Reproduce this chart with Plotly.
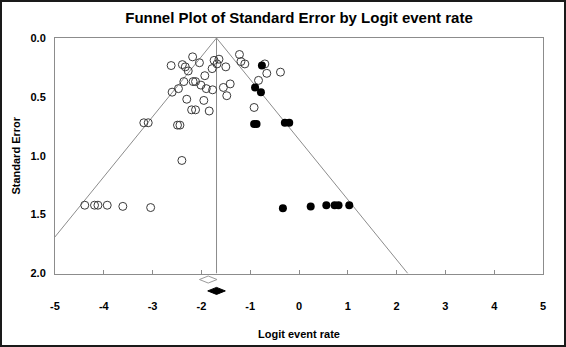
import plotly.graph_objects as go

# Observed studies: logit event rate and standard error
obs_x = [-2.62, -2.39, -2.33, -2.27, -2.18, -2.04, -1.74, -1.64, -1.78, -1.68,
         -1.50, -1.22, -1.19, -1.11, -0.70, -0.66, -0.38, -0.83, -1.93, -2.36,
         -2.17, -2.12, -2.01, -1.90, -1.77, -1.55, -1.41, -1.48, -2.47, -2.60,
         -2.30, -1.95, -2.20, -2.12, -1.84, -0.92, -3.18, -3.09, -2.49, -2.44,
         -2.40, -4.39, -4.19, -4.12, -3.93, -3.61, -3.04]
obs_se = [0.234, 0.226, 0.245, 0.28, 0.16, 0.21, 0.19, 0.18, 0.26, 0.22,
          0.245, 0.14, 0.20, 0.22, 0.22, 0.30, 0.29, 0.36, 0.32, 0.37,
          0.37, 0.37, 0.40, 0.43, 0.44, 0.42, 0.39, 0.49, 0.43, 0.46,
          0.52, 0.53, 0.61, 0.61, 0.62, 0.59, 0.72, 0.72, 0.74, 0.74,
          1.04, 1.42, 1.42, 1.42, 1.42, 1.43, 1.44]

# Imputed studies (trim and fill)
imp_x = [-0.76, -0.90, -0.78, -0.92, -0.87, -0.29, -0.20, -0.33, 0.24, 0.56,
         0.73, 0.81, 1.03]
imp_se = [0.234, 0.42, 0.46, 0.73, 0.73, 0.72, 0.72, 1.445, 1.43, 1.42,
          1.42, 1.42, 1.42]

# Combined estimates: point estimate with lower / upper limits
obs_est, obs_lo, obs_hi = -1.86, -2.04, -1.68
adj_est, adj_lo, adj_hi = -1.69, -1.87, -1.51

# Pseudo 95% confidence funnel
funnel_left_x = [-1.69, -5.61]
funnel_right_x = [-1.69, 2.23]
funnel_se = [0.0, 2.0]
mean_line_x = [-1.69, -1.69]
mean_line_se = [0.0, 2.0]

x_ticks = [-5, -4, -3, -2, -1, 0, 1, 2, 3, 4, 5]
x_tick_text = ["-5", "-4", "-3", "-2", "-1", "0", "1", "2", "3", "4", "5"]
y_ticks = [0.0, 0.5, 1.0, 1.5, 2.0]
y_tick_text = ["0.0", "0.5", "1.0", "1.5", "2.0"]

W, H = 566, 347
ML, MR, MT, MB = 55, 23, 38, 40
PW, PH = W - ML - MR, H - MT - MB
plot_bottom = 273.5
y_dom_lo = (H - MB - plot_bottom) / PH

FONT = "Liberation Sans, Arial, sans-serif"
GRAY = "#8c8c8c"

fig = go.Figure()

for fx in (funnel_left_x, funnel_right_x):
    fig.add_trace(go.Scatter(x=fx, y=funnel_se, mode="lines",
                             line=dict(color=GRAY, width=1), hoverinfo="skip"))
fig.add_trace(go.Scatter(x=mean_line_x, y=mean_line_se, mode="lines",
                         line=dict(color=GRAY, width=1), hoverinfo="skip"))

fig.add_trace(go.Scatter(x=obs_x, y=obs_se, mode="markers",
                         marker=dict(symbol="circle-open", size=8,
                                     color="#3a3a3a", line=dict(width=1))))
fig.add_trace(go.Scatter(x=imp_x, y=imp_se, mode="markers",
                         marker=dict(symbol="circle", size=8, color="#000000")))

# Summary diamonds drawn in a strip under the plot
def diamond(lo, est, hi, yc, hh=0.105):
    return [lo, est, hi, est, lo], [yc, yc + hh, yc, yc - hh, yc]

dx, dy = diamond(obs_lo, obs_est, obs_hi, 0.82)
fig.add_trace(go.Scatter(x=dx, y=dy, xaxis="x2", yaxis="y2", mode="lines",
                         fill="toself", fillcolor="white",
                         line=dict(color="#9a9a9a", width=1)))
dx, dy = diamond(adj_lo, adj_est, adj_hi, 0.48)
fig.add_trace(go.Scatter(x=dx, y=dy, xaxis="x2", yaxis="y2", mode="lines",
                         fill="toself", fillcolor="black",
                         line=dict(color="black", width=1)))

fig.update_layout(
    width=W, height=H,
    margin=dict(l=ML, r=MR, t=MT, b=MB),
    paper_bgcolor="white", plot_bgcolor="white",
    showlegend=False,
    font=dict(family=FONT, color="black"),
    title=dict(text="Funnel Plot of Standard Error by Logit event rate",
               x=(ML + PW / 2) / W, xanchor="center", y=1 - 18 / H, yanchor="middle",
               font=dict(size=15, family=FONT, weight="bold", color="black")),
    xaxis=dict(domain=[0, 1], range=[-5, 5], anchor="y", automargin=False,
               tickvals=x_ticks, ticktext=x_tick_text,
               tickfont=dict(size=11, weight="bold"),
               ticks="inside", ticklen=4, tickcolor=GRAY,
               ticklabelstandoff=22,
               showline=True, linecolor=GRAY, linewidth=1, mirror=True,
               showgrid=False, zeroline=False,
               title=dict(text="Logit event rate", standoff=19,
                          font=dict(size=11, weight="bold"))),
    yaxis=dict(domain=[y_dom_lo, 1], range=[2, 0], anchor="x", automargin=False,
               tickvals=y_ticks, ticktext=y_tick_text,
               tickfont=dict(size=11, weight="bold"),
               ticks="", ticklabelstandoff=6,
               showline=True, linecolor=GRAY, linewidth=1, mirror=True,
               showgrid=False, zeroline=False,
               title=dict(text="Standard Error", standoff=7,
                          font=dict(size=11, weight="bold"))),
    xaxis2=dict(domain=[0, 1], matches="x", anchor="y2", visible=False),
    yaxis2=dict(domain=[0, y_dom_lo], range=[0, 1], anchor="x2", visible=False),
    shapes=[dict(type="rect", xref="paper", yref="paper",
                 x0=(1 - ML) / PW, x1=1 + (MR - 1) / PW,
                 y0=-(MB - 1) / PH, y1=1 + (MT - 1) / PH,
                 line=dict(color="#1a1a1a", width=2))],
)

fig.write_html("out.html")
